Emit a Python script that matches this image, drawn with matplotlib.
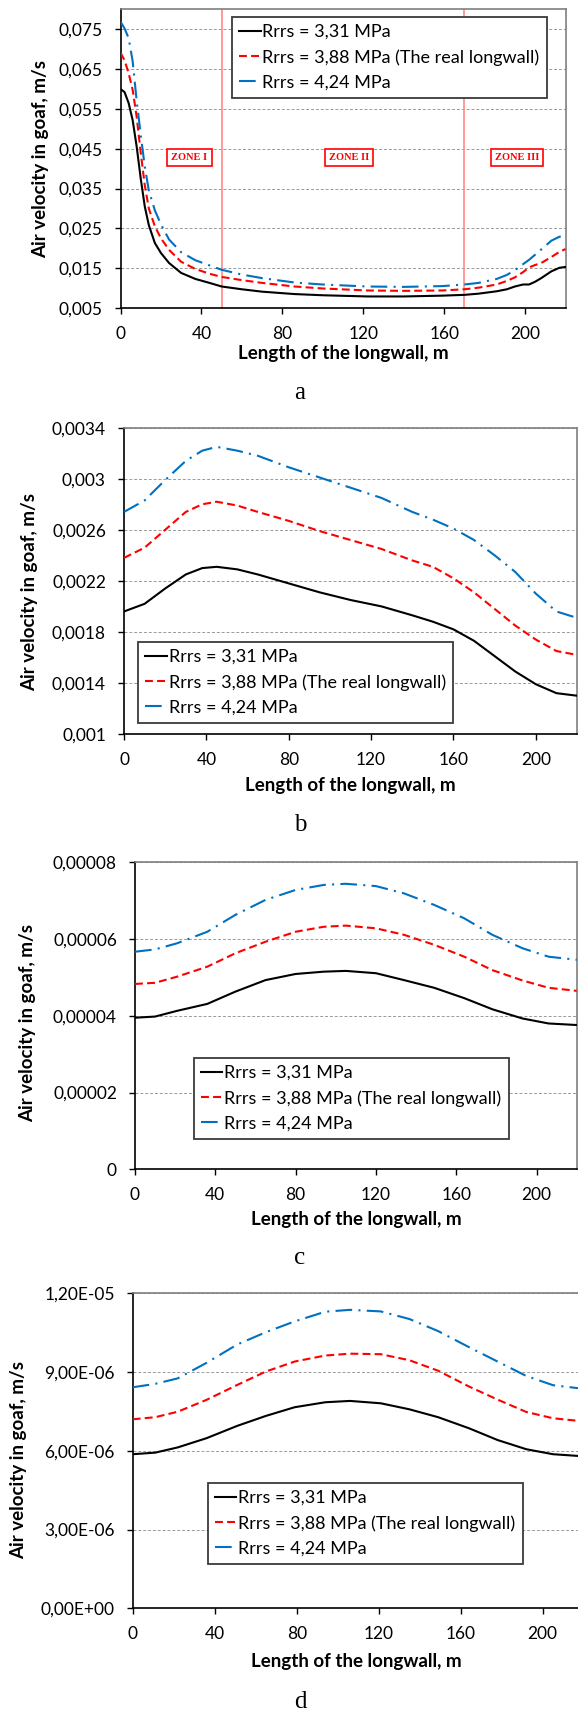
import matplotlib
matplotlib.use('Agg')
import matplotlib.pyplot as plt

plt.rcParams['font.family'] = ['Lato', 'DejaVu Sans']

W, H = 578, 1711

labels = ['Rrrs = 3,31 MPa', 'Rrrs = 3,88 MPa (The real longwall)', 'Rrrs = 4,24 MPa']
x_ticks = [0, 40, 80, 120, 160, 200]

# Panel a
x_a = [0, 2, 4, 6, 8, 10, 12, 14, 17, 20, 24, 30, 37, 44, 50, 60, 70, 86, 100, 122,
       140, 159, 170, 177, 186, 191, 195, 199, 202, 205, 208, 213, 217, 220]
black_a = [0.0600, 0.0592, 0.0565, 0.0522, 0.0455, 0.0375, 0.0305, 0.0258, 0.0213, 0.0188,
           0.0163, 0.0138, 0.0123, 0.0113, 0.0104, 0.0097, 0.0091, 0.0085, 0.0082, 0.0079,
           0.0079, 0.0081, 0.0083, 0.0086, 0.0092, 0.0097, 0.0104, 0.0109, 0.0109, 0.0116,
           0.0125, 0.0142, 0.0151, 0.0153]
red_a = [0.0691, 0.0672, 0.0640, 0.0598, 0.0530, 0.0440, 0.0358, 0.0300, 0.0255, 0.0225,
         0.0196, 0.0166, 0.0148, 0.0136, 0.0128, 0.0120, 0.0113, 0.0104, 0.0099, 0.0094,
         0.0093, 0.0094, 0.0097, 0.0101, 0.0109, 0.0118, 0.0127, 0.0140, 0.0152, 0.0158,
         0.0163, 0.0178, 0.0191, 0.0198]
blue_a = [0.0769, 0.0752, 0.0728, 0.0670, 0.0570, 0.0485, 0.0405, 0.0345, 0.0295, 0.0260,
          0.0222, 0.0190, 0.0170, 0.0157, 0.0146, 0.0134, 0.0125, 0.0114, 0.0109, 0.0104,
          0.0103, 0.0105, 0.0109, 0.0113, 0.0123, 0.0133, 0.0145, 0.0160, 0.0171, 0.0184,
          0.0197, 0.0219, 0.0229, 0.0231]
yticks_a = [0.005, 0.015, 0.025, 0.035, 0.045, 0.055, 0.065, 0.075]
ylabels_a = ['0,005', '0,015', '0,025', '0,035', '0,045', '0,055', '0,065', '0,075']
ylim_a = (0.005, 0.080)
zones = ['ZONE I', 'ZONE II', 'ZONE III']
zone_x = [34, 113, 196]
zone_lines = [50, 170]

# Panel b
x_b = [0, 10, 20, 30, 38, 45, 55, 65, 80, 95, 110, 125, 140, 150, 160, 170, 180, 190, 200, 210, 220]
black_b = [0.00196, 0.00202, 0.00214, 0.00225, 0.00230, 0.00231, 0.00229, 0.00225, 0.00218,
           0.00211, 0.00205, 0.00200, 0.00193, 0.00188, 0.00182, 0.00173, 0.00161, 0.00149,
           0.00139, 0.00132, 0.00130]
red_b = [0.00238, 0.00246, 0.00260, 0.00274, 0.00280, 0.00282, 0.00279, 0.00274, 0.00267,
         0.00259, 0.00252, 0.00245, 0.00236, 0.00231, 0.00222, 0.00211, 0.00198, 0.00185,
         0.00174, 0.00165, 0.00162]
blue_b = [0.00274, 0.00283, 0.00299, 0.00314, 0.00322, 0.00325, 0.00322, 0.00318, 0.00309,
          0.00301, 0.00293, 0.00285, 0.00274, 0.00268, 0.00261, 0.00252, 0.00240, 0.00227,
          0.00210, 0.00196, 0.00191]
yticks_b = [0.001, 0.0014, 0.0018, 0.0022, 0.0026, 0.003, 0.0034]
ylabels_b = ['0,001', '0,0014', '0,0018', '0,0022', '0,0026', '0,003', '0,0034']
ylim_b = (0.001, 0.0034)

# Panel c
x_c = [0, 10, 21, 36, 50, 65, 80, 94, 105, 120, 134, 149, 164, 178, 193, 206, 220]
black_c = [3.95e-5, 3.98e-5, 4.13e-5, 4.31e-5, 4.63e-5, 4.93e-5, 5.09e-5, 5.15e-5, 5.17e-5,
           5.11e-5, 4.93e-5, 4.73e-5, 4.46e-5, 4.17e-5, 3.93e-5, 3.80e-5, 3.76e-5]
red_c = [4.83e-5, 4.86e-5, 5.02e-5, 5.28e-5, 5.63e-5, 5.93e-5, 6.19e-5, 6.32e-5, 6.35e-5,
         6.28e-5, 6.11e-5, 5.85e-5, 5.54e-5, 5.19e-5, 4.92e-5, 4.73e-5, 4.65e-5]
blue_c = [5.67e-5, 5.73e-5, 5.89e-5, 6.19e-5, 6.63e-5, 7.02e-5, 7.28e-5, 7.41e-5, 7.44e-5,
          7.38e-5, 7.19e-5, 6.89e-5, 6.54e-5, 6.11e-5, 5.76e-5, 5.54e-5, 5.46e-5]
yticks_c = [0, 2e-5, 4e-5, 6e-5, 8e-5]
ylabels_c = ['0', '0,00002', '0,00004', '0,00006', '0,00008']
ylim_c = (0, 8e-5)

# Panel d
x_d = [0, 11, 22, 36, 51, 65, 79, 94, 106, 121, 135, 149, 164, 178, 192, 205, 220]
black_d = [5.87e-6, 5.93e-6, 6.13e-6, 6.48e-6, 6.95e-6, 7.33e-6, 7.66e-6, 7.85e-6, 7.90e-6,
           7.81e-6, 7.58e-6, 7.28e-6, 6.86e-6, 6.41e-6, 6.06e-6, 5.87e-6, 5.79e-6]
red_d = [7.20e-6, 7.28e-6, 7.49e-6, 7.94e-6, 8.51e-6, 9.02e-6, 9.40e-6, 9.63e-6, 9.70e-6,
         9.68e-6, 9.45e-6, 9.05e-6, 8.45e-6, 7.95e-6, 7.48e-6, 7.24e-6, 7.12e-6]
blue_d = [8.42e-6, 8.55e-6, 8.76e-6, 9.35e-6, 10.05e-6, 10.52e-6, 10.93e-6, 11.30e-6, 11.37e-6,
          11.31e-6, 11.02e-6, 10.56e-6, 9.95e-6, 9.40e-6, 8.85e-6, 8.50e-6, 8.36e-6]
yticks_d = [0, 3e-6, 6e-6, 9e-6, 1.2e-5]
ylabels_d = ['0,00E+00', '3,00E-06', '6,00E-06', '9,00E-06', '1,20E-05']
ylim_d = (0, 1.2e-5)

fig = plt.figure(figsize=(W / 100, H / 100), dpi=100)


def panel(box, x, ys, yticks, ylabels, ylim, leg_xy, ylab_xy, xlab_xy, letter_xy, letter):
    left, top, right, bottom = box
    ax = fig.add_axes([left / W, 1 - bottom / H, (right - left) / W, (bottom - top) / H])
    styles = [dict(color='black', ls='-'),
              dict(color='#FF0000', ls=(0, (3.8, 2))),
              dict(color='#0070C0', ls=(0, (8, 3, 1, 3)))]
    for y, st, lab in zip(ys, styles, labels):
        ax.plot(x, y, lw=1.5, label=lab, zorder=3, **st)
    ax.set_xlim(0, 220)
    ax.set_ylim(*ylim)
    ax.set_xticks(x_ticks)
    ax.set_xticklabels([str(t) for t in x_ticks])
    ax.set_yticks(yticks)
    ax.set_yticklabels(ylabels)
    ax.tick_params(labelsize=12.5, length=4, width=1, direction='out', pad=9)
    ax.yaxis.grid(True, color='#9a9a9a', ls=(0, (3, 2)), lw=0.7)
    ax.set_axisbelow(True)
    for s in ['left', 'bottom']:
        ax.spines[s].set_color('black')
        ax.spines[s].set_linewidth(1.2)
    for s in ['top', 'right']:
        ax.spines[s].set_color('#7f7f7f')
        ax.spines[s].set_linewidth(1.2)
    leg = ax.legend(loc='upper left', bbox_to_anchor=(leg_xy[0] / W, 1 - leg_xy[1] / H),
                    bbox_transform=fig.transFigure, borderaxespad=0, fontsize=13,
                    handlelength=1.2, handletextpad=0.1, labelspacing=0.5,
                    borderpad=0.4, fancybox=False, framealpha=1)
    leg.get_frame().set_edgecolor('#3a3a3a')
    leg.get_frame().set_linewidth(1.3)
    fig.text(ylab_xy[0] / W, 1 - ylab_xy[1] / H, 'Air velocity in goaf, m/s', rotation=90,
             ha='center', va='center', fontsize=13.5, fontweight='bold')
    fig.text(xlab_xy[0] / W, 1 - xlab_xy[1] / H, 'Length of the longwall, m',
             ha='center', va='center', fontsize=13.5, fontweight='bold')
    fig.text(letter_xy[0] / W, 1 - letter_xy[1] / H, letter, ha='center', va='center',
             fontsize=18, family='Liberation Serif')
    return ax


ax_a = panel((120.5, 9.3, 565.5, 308), x_a, [black_a, red_a, blue_a], yticks_a, ylabels_a,
             ylim_a, (231.7, 16.7), (40.5, 159), (343, 353), (300, 393), 'a')
for xv in zone_lines:
    ax_a.axvline(xv, color='#FF8A8A', lw=1.2, zorder=2)
for zx, zt in zip(zone_x, zones):
    ax_a.text(zx, 0.0428, zt, ha='center', va='center', color='#FF0000', fontsize=7.5,
              fontweight='bold', family='Liberation Serif', zorder=4,
              bbox=dict(boxstyle='square,pad=0.4', fc='white', ec='#FF0000', lw=1.2))

panel((124, 427.7, 577, 734), x_b, [black_b, red_b, blue_b], yticks_b, ylabels_b, ylim_b,
      (138.2, 641.7), (29.5, 592), (350, 785), (300, 825), 'b')
panel((135, 862.3, 576.7, 1169.3), x_c, [black_c, red_c, blue_c], yticks_c, ylabels_c, ylim_c,
      (193.5, 1057.7), (27.6, 1023), (356, 1219), (300, 1258), 'c')
panel((132.7, 1293.3, 583.7, 1608.3), x_d, [black_d, red_d, blue_d], yticks_d, ylabels_d, ylim_d,
      (207.5, 1482.7), (18.4, 1460), (356, 1662), (300, 1702), 'd')

fig.savefig('out.png', dpi=100)
